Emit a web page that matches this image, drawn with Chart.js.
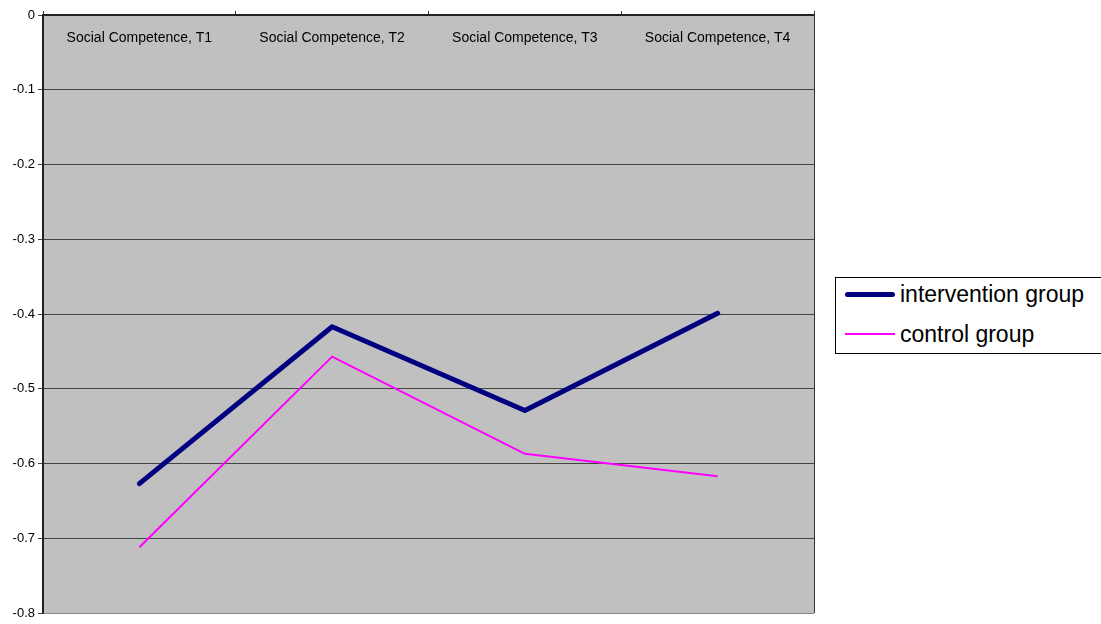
<!DOCTYPE html>
<html>
<head>
<meta charset="utf-8">
<script src="https://cdn.jsdelivr.net/npm/chart.js@4/dist/chart.umd.min.js"></script>
<style>
  html, body { margin: 0; padding: 0; background: #fff; overflow: hidden; }
  #wrap { position: relative; width: 1101px; height: 624px; overflow: hidden; }
  #legend {
    position: absolute; left: 835px; top: 277px; width: 290px; height: 75px;
    border: 1px solid #000; background: #fff;
    font-family: "Liberation Sans", Arial, sans-serif; font-size: 23px; color: #000;
  }
  .row { position: absolute; left: 9px; height: 30px; display: flex; align-items: center; white-space: nowrap; }
  .swatch { width: 50px; margin-right: 5px; }
</style>
</head>
<body>
<div id="wrap">
  <canvas id="chart" width="1101" height="624"></canvas>
  <div id="legend"></div>
</div>
<script>
// chart data
const categories = ['Social Competence, T1', 'Social Competence, T2', 'Social Competence, T3', 'Social Competence, T4'];
const interventionGroup = [-0.627, -0.417, -0.529, -0.399];
const controlGroup = [-0.712, -0.457, -0.587, -0.617];
const yTickLabels = ['0', '-0.1', '-0.2', '-0.3', '-0.4', '-0.5', '-0.6', '-0.7', '-0.8'];

const seriesNames = ['intervention group', 'control group'];
const seriesColors = ['#000080', '#FF00FF'];
const seriesWidths = [5, 2];

// gray plot background + category labels drawn inside the top of the plot
const plotDecor = {
  id: 'plotDecor',
  beforeDraw(chart) {
    const { ctx, chartArea: a } = chart;
    ctx.save();
    ctx.fillStyle = '#C0C0C0';
    ctx.fillRect(a.left, a.top, a.right - a.left, a.bottom - a.top);
    ctx.restore();
  },
  afterDatasetsDraw(chart) {
    const { ctx, chartArea: a, scales } = chart;
    ctx.save();
    ctx.fillStyle = '#000';
    ctx.font = '14px "Liberation Sans", Arial, sans-serif';
    ctx.textAlign = 'center';
    ctx.textBaseline = 'middle';
    categories.forEach((c, i) => {
      ctx.fillText(c, scales.x.getPixelForValue(i), a.top + 23);
    });
    // right edge of plot
    ctx.strokeStyle = '#333';
    ctx.lineWidth = 1;
    ctx.beginPath();
    ctx.moveTo(a.right + 0.5, a.top);
    ctx.lineTo(a.right + 0.5, a.bottom);
    ctx.stroke();
    ctx.restore();
  }
};

const chart = new Chart(document.getElementById('chart'), {
  type: 'line',
  data: {
    labels: categories,
    datasets: [
      { label: seriesNames[0], data: interventionGroup, borderColor: seriesColors[0], borderWidth: seriesWidths[0],
        pointRadius: 0, tension: 0, borderCapStyle: 'round', borderJoinStyle: 'round' },
      { label: seriesNames[1], data: controlGroup, borderColor: seriesColors[1], borderWidth: seriesWidths[1],
        pointRadius: 0, tension: 0 }
    ]
  },
  options: {
    responsive: false,
    animation: false,
    layout: { padding: { left: 0, right: 287, top: 0, bottom: 11 } },
    plugins: { legend: { display: false }, tooltip: { enabled: false } },
    scales: {
      x: {
        position: 'top',
        offset: true,
        grid: { drawOnChartArea: false, drawTicks: true, tickLength: 4, color: '#333', offset: true },
        border: { color: '#222', width: 2 },
        ticks: { display: false },
        afterFit(s) { s.height = 15; }
      },
      y: {
        min: -0.8, max: 0,
        grid: {
          color: ctx => (ctx.tick && ctx.tick.value <= -0.8 + 1e-9) ? '#888' : '#444',
          tickLength: 5,
          tickColor: '#444'
        },
        border: { color: '#222', width: 2 },
        ticks: {
          stepSize: 0.1,
          color: '#000',
          padding: 3,
          font: { family: '"Liberation Sans", Arial, sans-serif', size: 13 },
          callback: (v) => yTickLabels[Math.round(-v * 10)]
        },
        afterFit(s) { s.width = 43; }
      }
    }
  },
  plugins: [plotDecor]
});

// HTML legend with a box, like the reference
const legend = document.getElementById('legend');
seriesNames.forEach((name, i) => {
  const row = document.createElement('div');
  row.className = 'row';
  row.style.top = (1 + i * 40) + 'px';
  const sw = document.createElement('div');
  sw.className = 'swatch';
  sw.style.height = seriesWidths[i] + 'px';
  sw.style.background = seriesColors[i];
  sw.style.borderRadius = i === 0 ? '3px' : '0';
  const tx = document.createElement('span');
  tx.textContent = name;
  row.appendChild(sw);
  row.appendChild(tx);
  legend.appendChild(row);
});
</script>
</body>
</html>
